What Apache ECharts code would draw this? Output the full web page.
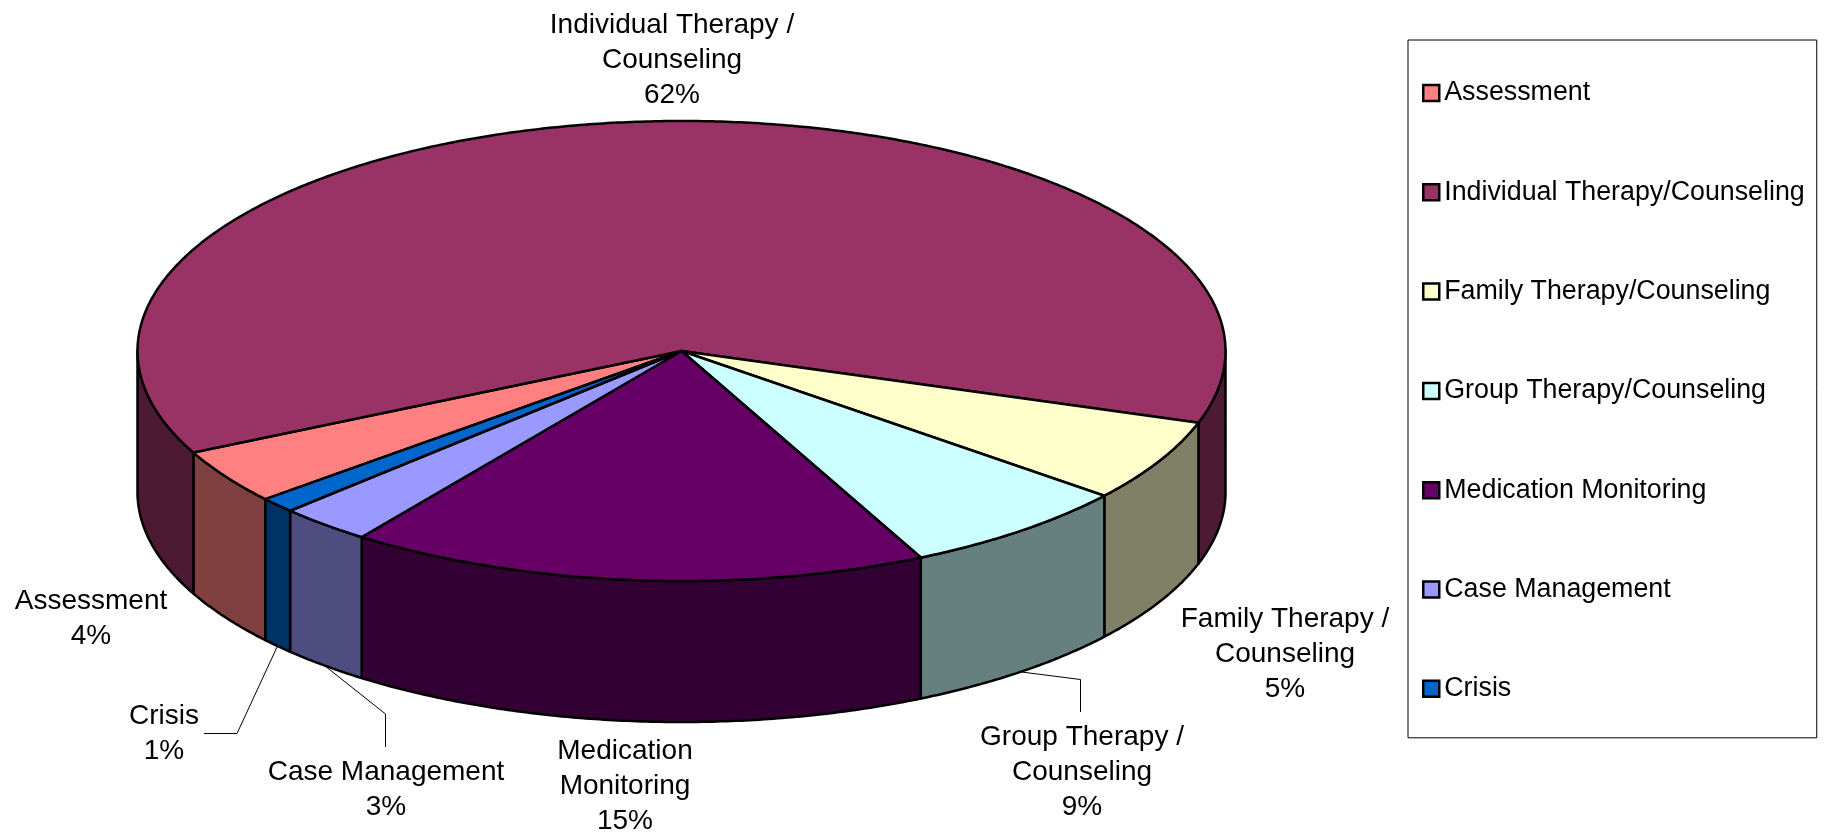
<!DOCTYPE html>
<html>
<head>
<meta charset="utf-8">
<style>
	html,body{margin:0;padding:0;background:#fff;}
	#chart{width:1824px;height:833px;}
</style>
<script src="https://cdn.jsdelivr.net/npm/echarts@6/dist/echarts.min.js"></script>
</head>
<body>
<div id="chart"></div>
<script>
var categories=['Assessment','Individual Therapy/Counseling','Family Therapy/Counseling','Group Therapy/Counseling','Medication Monitoring','Case Management','Crisis'];
//slice sizes as drawn (%), the printed labels differ a little for some slices
var sliceShares=[3.86,62.32,5.79,6.92,17.25,2.78,1.08];
var labelTexts=['Assessment\n4%','Individual Therapy /\nCounseling\n62%','Family Therapy /\nCounseling\n5%','Group Therapy /\nCounseling\n9%','Medication\nMonitoring\n15%','Case Management\n3%','Crisis\n1%'];

var topColors=['#FF8080','#993366','#FFFFCC','#CCFFFF','#660066','#9999FF','#0066CC'];
var wallColors=['#804040','#4D1A33','#808066','#668080','#330033','#4D4D80','#003366'];
//label centres
var labelPos=[[91,619],[672,60],[1285,654],[1082,772],[625,786],[386,790],[164,734]];
//leader lines, elbow points after the start on the pie edge
var leaderPoints=[null,null,null,[[1080.5,679.5],[1080.5,712]],null,[[385.5,714],[385.5,747]],[[237,733.5],[204,733.5]]];

//pie geometry
var cx=681.5,cy=351,rx=544,ry=230,depth=141;
var startAngle=229.9;
var labelFont=28,labelLine=35;

function pointAt(deg,drop){
	var a=deg*Math.PI/180;
	return [cx+rx*Math.sin(a),cy-ry*Math.cos(a)+drop];
}
function arcPoints(from,to,drop){
	var pts=[];
	var n=Math.max(2,Math.ceil((to-from)*2));
	for(var i=0;i<=n;i++){
		pts.push(pointAt(from+(to-from)*i/n,drop));
	}
	return pts;
}
//angle range of every slice, clockwise from top
var ranges=[];
(function(){
	var a=startAngle;
	sliceShares.forEach(function(v){
		ranges.push([a,a+v*3.6]);
		a+=v*3.6;
	});
})();
//front wall is only visible between 90 and 270 degrees
function wallParts(from,to){
	var parts=[];
	[[90,270],[450,630]].forEach(function(r){
		var a=Math.max(from,r[0]),b=Math.min(to,r[1]);
		if(b>a) parts.push([a,b]);
	});
	return parts;
}
function renderSlice(idx){
	return function(params,api){
		var r=ranges[idx];
		var children=[];
		wallParts(r[0],r[1]).forEach(function(p){
			var upper=arcPoints(p[0],p[1],0);
			var lower=arcPoints(p[0],p[1],depth).reverse();
			children.push({
				type:'polygon',
				z2:1,
				shape:{points:upper.concat(lower)},
				style:{fill:wallColors[idx],stroke:'#000',lineWidth:2.5,lineJoin:'round'}
			});
		});
		children.push({
			type:'polygon',
			z2:2,
			shape:{points:[[cx,cy]].concat(arcPoints(r[0],r[1],0))},
			style:{fill:topColors[idx],stroke:'#000',lineWidth:2.5,lineJoin:'round'}
		});
		if(leaderPoints[idx]){
			children.push({
				type:'polyline',
				z2:3,
				shape:{points:[pointAt((r[0]+r[1])/2,depth)].concat(leaderPoints[idx])},
				style:{fill:null,stroke:'#000',lineWidth:1}
			});
		}
		children.push({
			type:'text',
			z2:4,
			x:labelPos[idx][0],
			y:labelPos[idx][1],
			style:{
				text:labelTexts[idx],
				fill:'#000',
				font:labelFont+'px "Liberation Sans"',
				lineHeight:labelLine,
				align:'center',
				verticalAlign:'middle'
			}
		});
		return {type:'group',children:children};
	};
}

var mychart=echarts.init(document.getElementById('chart'));
var option={
	animation:false,
	color:topColors,
	legend:{
		show:true,
		orient:'vertical',
		left:1408,
		top:40,
		icon:'rect',
		itemWidth:16,
		itemHeight:16,
		itemGap:69.3,
		padding:[38,12,34,14],
		backgroundColor:'#fff',
		borderColor:'#000',
		borderWidth:1,
		borderRadius:0,
		itemStyle:{borderColor:'#000',borderWidth:2.5},
		textStyle:{
			color:'#000',
			fontSize:26.8,
			fontFamily:'Liberation Sans',
			lineHeight:30
		},
		data:categories
	},
	series:categories.map(function(name,i){
		return {
			name:name,
			type:'custom',
			coordinateSystem:'none',
			renderItem:renderSlice(i),
			data:[sliceShares[i]]
		};
	})
};
mychart.setOption(option);
window.addEventListener('resize',function(){
	mychart.resize();
});
</script>
</body>
</html>
